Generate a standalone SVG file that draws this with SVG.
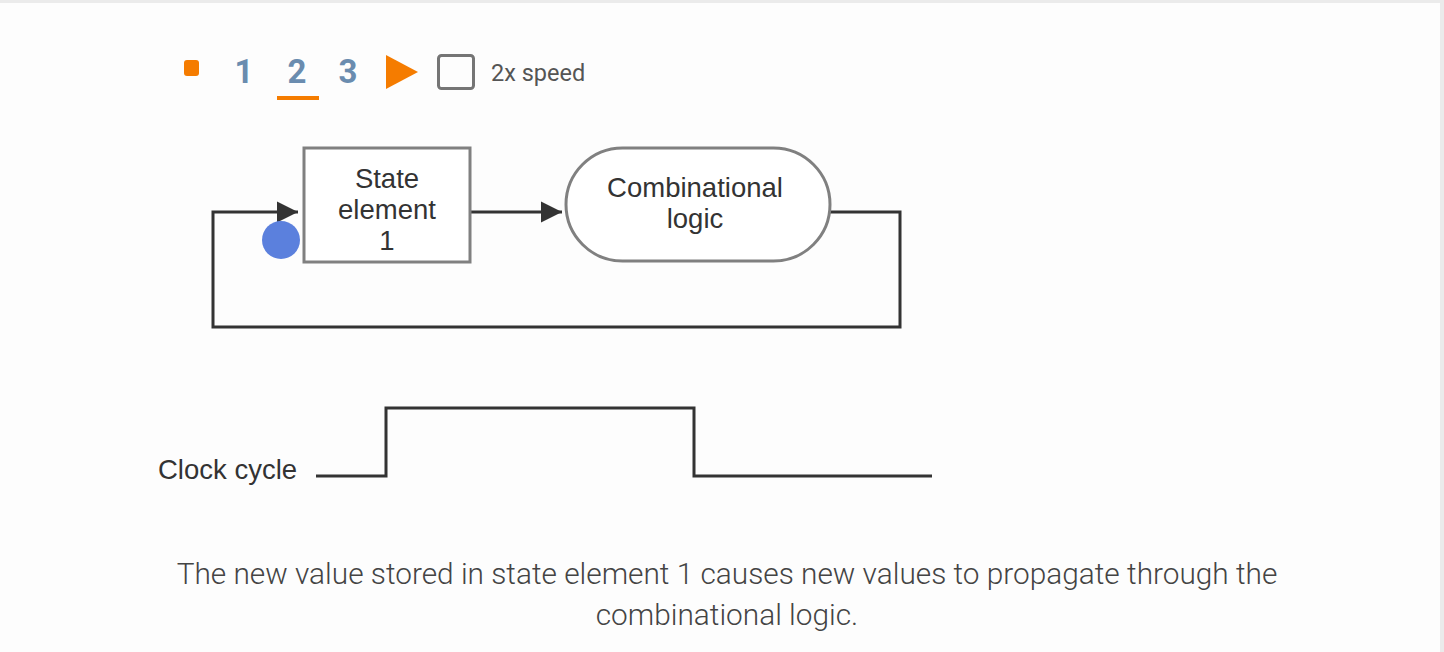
<svg xmlns="http://www.w3.org/2000/svg" width="1444" height="652" viewBox="0 0 1444 652">
<defs>
<style>
.lbl{font-family:Arial,"Liberation Sans",sans-serif;font-size:27.5px;fill:#333;text-anchor:middle}
.wire{fill:none;stroke:#333;stroke-width:3}
.step{font-family:Roboto,"Liberation Sans",sans-serif;font-weight:bold;font-size:33px;fill:#6a8caf;text-anchor:middle}
.cap{font-family:Roboto,"Liberation Sans",sans-serif;font-weight:300;font-size:29.8px;fill:#444;text-anchor:middle}
</style>
<marker id="arr" viewBox="0 0 10 10" refX="10" refY="5" markerWidth="7" markerHeight="8" markerUnits="strokeWidth" orient="auto">
<path d="M0,0 L10,5 L0,10 z" fill="#333"/>
</marker>
</defs>
<rect width="1444" height="652" fill="#fdfdfd"/>
<rect x="0" y="0" width="1444" height="3" fill="#ebebeb"/>
<rect x="1440" y="0" width="4" height="652" fill="#ebebeb"/>
<g id="controls">
<rect x="184" y="60" width="15" height="16" rx="3" fill="#f57c00"/>
<text class="step" x="244" y="83">1</text>
<text class="step" x="297" y="83">2</text>
<rect x="277" y="96" width="42" height="4" fill="#f57c00"/>
<text class="step" x="348" y="83">3</text>
<path d="M386,55 L418,72 L386,89 z" fill="#f57c00"/>
<rect x="438.5" y="55.5" width="35" height="33" rx="3" fill="none" stroke="#757575" stroke-width="3"/>
<text x="491" y="81" font-family="Roboto,'Liberation Sans',sans-serif" font-size="23.5" fill="#555">2x speed</text>
</g>
<g id="connectors">
<path class="wire" d="M470,212 L562,212" marker-end="url(#arr)"/>
<path class="wire" d="M830,212 L900,212 L900,327 L213,327 L213,212 L298,212" marker-end="url(#arr)"/>
</g>
<g id="state1">
<rect x="304" y="148" width="166" height="114" fill="#fff" stroke="#808080" stroke-width="3"/>
<text class="lbl" x="387" y="188">State</text>
<text class="lbl" x="387" y="219">element</text>
<text class="lbl" x="387" y="250">1</text>
</g>
<g id="comb">
<rect x="566" y="148" width="264" height="113" rx="56.5" fill="#fff" stroke="#808080" stroke-width="3"/>
<text class="lbl" x="695" y="197">Combinational</text>
<text class="lbl" x="695" y="228">logic</text>
</g>
<g id="token">
<circle cx="281" cy="240" r="19" fill="#5b80dd"/>
</g>
<g id="clock">
<text x="158" y="479" font-family="Arial,'Liberation Sans',sans-serif" font-size="27.5" fill="#333">Clock cycle</text>
<path class="wire" d="M316,476 L386,476 L386,408 L694,408 L694,476 L932,476"/>
</g>
<g id="caption">
<text class="cap" x="727" y="584">The new value stored in state element 1 causes new values to propagate through the</text>
<text class="cap" x="727" y="625">combinational logic.</text>
</g>
</svg>
